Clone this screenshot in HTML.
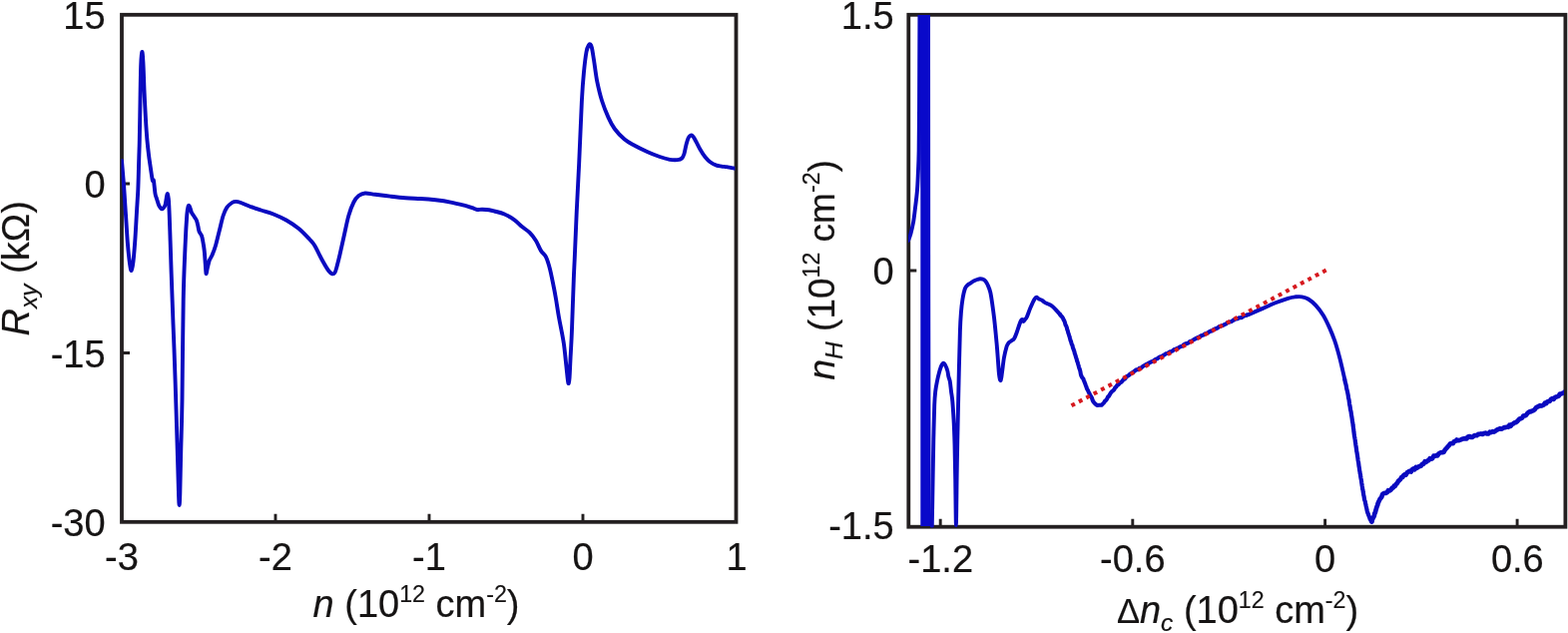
<!DOCTYPE html>
<html lang="en"><head><meta charset="utf-8"><title>Rxy and nH</title>
<style>html,body{margin:0;padding:0;background:#fff;overflow:hidden}svg{display:block}</style></head>
<body>
<svg width="1571" height="634" viewBox="0 0 1571 634">
<rect width="1571" height="634" fill="#fff"/>
<defs><clipPath id="cl"><rect x="121.5" y="15" width="614.9" height="508"/></clipPath><clipPath id="cr"><rect x="910" y="15" width="657" height="513.4"/></clipPath></defs>
<g fill="none" stroke="#231f20" stroke-width="3.8" stroke-linecap="butt">
<rect x="122.0" y="14.8" width="615.5" height="508.0"/>
<rect x="910.3" y="14.8" width="658.1" height="512.9"/>
<path stroke-width="2.9" d="M276.0 522.8v-8M430.0 522.8v-8M584.0 522.8v-8M122.0 184.0h8M122.0 353.5h8M942.2 527.7v-8M1134.8 527.7v-8M1327.6 527.7v-8M1520.1 527.7v-8M910.3 271.0h8"/>
</g>
<g fill="none" stroke="#0a0ac0" stroke-width="3.9" stroke-linejoin="round" stroke-linecap="round">
<path clip-path="url(#cl)" d="M122.0 161.0C122.3 165.0 123.3 176.0 124.0 185.0C124.7 194.0 125.3 205.0 126.0 215.0C126.7 225.0 127.3 236.8 128.0 245.0C128.7 253.2 129.4 259.7 130.0 264.0C130.6 268.3 131.1 271.3 131.7 271.0C132.3 270.7 132.9 267.0 133.5 262.0C134.1 257.0 134.7 249.3 135.3 241.0C135.9 232.7 136.5 220.5 137.0 212.0C137.5 203.5 137.9 198.7 138.3 190.0C138.7 181.3 138.9 168.3 139.2 160.0C139.4 151.7 139.6 150.0 139.8 140.0C140.0 130.0 140.3 112.5 140.5 100.0C140.7 87.5 140.9 73.0 141.2 65.0C141.5 57.0 141.9 52.5 142.3 52.0C142.7 51.5 143.0 55.7 143.4 62.0C143.8 68.3 144.1 80.3 144.5 90.0C144.9 99.7 145.5 111.7 146.0 120.0C146.5 128.3 146.9 134.2 147.4 140.0C147.9 145.8 148.5 150.8 149.0 155.0C149.5 159.2 149.9 161.5 150.4 165.0C150.9 168.5 151.6 173.3 152.0 176.0C152.4 178.7 152.6 180.2 152.9 181.0C153.2 181.8 153.6 178.8 154.0 181.0C154.4 183.2 155.0 191.0 155.5 194.0C156.0 197.0 156.4 197.1 157.0 199.0C157.6 200.9 158.5 204.1 159.2 205.7C159.9 207.3 160.5 207.9 161.0 208.5C161.5 209.1 161.8 209.5 162.3 209.4C162.8 209.3 163.4 208.7 164.0 208.0C164.6 207.3 165.1 206.7 165.6 205.0C166.1 203.3 166.5 199.8 166.8 198.0C167.1 196.2 167.3 194.2 167.6 194.0C167.9 193.8 168.2 195.0 168.5 197.0C168.8 199.0 169.0 198.7 169.3 206.0C169.7 213.3 170.1 225.3 170.6 241.0C171.1 256.7 171.9 281.8 172.6 300.0C173.2 318.2 173.8 331.7 174.5 350.0C175.2 368.3 175.9 391.7 176.5 410.0C177.1 428.3 177.6 445.8 178.0 460.0C178.4 474.2 178.7 487.3 179.0 495.0C179.3 502.7 179.4 506.0 179.6 506.0C179.8 506.0 180.0 504.3 180.3 495.0C180.6 485.7 180.9 465.8 181.3 450.0C181.7 434.2 182.1 425.0 182.5 400.0C182.9 375.0 183.1 326.5 183.7 300.0C184.2 273.5 185.2 255.2 185.8 241.0C186.4 226.8 186.9 220.7 187.3 215.0C187.8 209.3 188.1 208.5 188.5 207.0C188.9 205.5 189.1 205.7 189.5 206.0C189.9 206.3 190.4 207.8 190.8 209.0C191.2 210.2 191.4 211.7 192.0 213.0C192.6 214.3 193.8 215.7 194.6 217.0C195.4 218.3 196.3 219.3 197.0 221.0C197.7 222.7 198.1 225.2 198.5 227.0C198.9 228.8 199.0 230.5 199.6 232.0C200.2 233.5 201.3 234.2 202.0 236.0C202.7 237.8 203.1 240.5 203.5 243.0C203.9 245.5 204.3 247.3 204.7 251.0C205.1 254.7 205.5 261.2 205.8 265.0C206.1 268.8 206.2 273.2 206.5 274.0C206.8 274.8 207.0 272.2 207.5 270.0C208.0 267.8 208.9 263.3 209.7 261.0C210.5 258.7 211.2 258.5 212.3 256.0C213.4 253.5 214.8 250.2 216.0 246.0C217.2 241.8 218.5 236.0 219.8 231.0C221.1 226.0 222.3 219.9 223.6 216.0C224.9 212.1 225.9 209.9 227.4 207.7C228.9 205.5 231.0 204.0 232.5 203.0C234.0 202.0 234.8 201.9 236.3 201.9C237.8 201.9 238.8 202.1 241.3 203.0C243.8 203.9 248.0 205.9 251.4 207.2C254.8 208.4 257.7 209.3 261.5 210.5C265.3 211.7 269.8 212.8 274.0 214.5C278.2 216.2 282.6 218.1 286.8 220.5C291.0 222.9 295.5 225.8 299.4 229.0C303.3 232.2 307.4 236.7 310.0 239.5C312.6 242.3 313.2 242.5 315.3 246.0C317.4 249.5 320.5 256.3 322.8 260.5C325.1 264.7 327.4 268.7 329.1 271.0C330.8 273.3 331.8 274.0 332.9 274.3C334.0 274.6 334.7 274.2 335.5 273.0C336.3 271.8 336.7 270.0 337.5 267.0C338.3 264.0 339.4 259.8 340.5 255.0C341.6 250.2 342.8 244.5 344.3 238.0C345.8 231.5 347.6 221.9 349.3 216.0C351.0 210.1 352.7 205.8 354.4 202.5C356.1 199.2 357.5 197.5 359.4 196.0C361.3 194.5 363.1 193.7 365.8 193.5C368.6 193.3 371.7 194.3 375.9 194.8C380.1 195.3 385.9 196.0 391.0 196.6C396.1 197.2 401.1 197.8 406.2 198.2C411.2 198.6 416.2 198.7 421.3 199.0C426.4 199.3 431.4 199.7 436.5 200.3C441.6 200.9 446.6 201.6 451.6 202.6C456.7 203.6 463.2 205.3 466.8 206.2C470.4 207.1 471.2 207.6 473.1 208.2C475.0 208.8 476.4 209.8 478.1 210.0C479.8 210.2 481.2 209.6 483.2 209.7C485.2 209.8 488.0 210.0 490.0 210.3C492.0 210.6 492.7 210.8 495.3 211.5C497.9 212.2 502.0 213.0 505.4 214.5C508.8 216.0 512.6 218.2 515.5 220.3C518.4 222.4 520.5 225.0 523.0 227.1C525.5 229.2 528.3 230.6 530.6 232.9C532.9 235.2 535.0 238.0 536.9 241.0C538.8 244.0 540.3 248.4 542.0 251.1C543.7 253.8 545.5 254.4 547.0 257.4C548.5 260.3 549.5 263.9 550.8 268.8C552.1 273.7 553.5 281.3 554.6 286.5C555.7 291.7 556.2 294.8 557.1 300.0C558.0 305.2 558.7 310.8 560.0 318.0C561.3 325.2 563.5 335.2 564.7 343.0C565.9 350.8 566.5 358.8 567.2 365.0C567.9 371.2 568.4 376.8 568.8 380.0C569.2 383.2 569.4 384.3 569.7 384.0C570.0 383.7 570.3 382.0 570.6 378.0C570.9 374.0 571.1 368.0 571.5 360.0C571.9 352.0 572.5 343.3 573.0 330.0C573.5 316.7 574.3 291.7 574.8 280.0C575.2 268.3 575.2 271.2 575.7 260.0C576.2 248.8 577.0 229.2 577.7 213.0C578.5 196.8 579.3 181.7 580.2 163.0C581.1 144.3 582.1 116.2 582.9 101.0C583.7 85.8 584.2 80.2 585.0 72.0C585.8 63.8 586.7 56.5 587.5 52.0C588.3 47.5 589.3 46.2 590.0 45.0C590.7 43.8 591.0 44.0 591.5 44.5C592.0 45.0 592.4 45.4 593.0 48.0C593.6 50.6 594.1 54.5 595.0 60.0C595.9 65.5 596.8 74.0 598.1 80.8C599.5 87.6 601.2 94.9 603.1 101.0C605.0 107.1 607.3 112.7 609.4 117.4C611.5 122.1 613.1 125.3 615.8 129.0C618.5 132.7 622.4 136.7 625.7 139.5C629.0 142.3 632.0 143.7 635.8 145.8C639.6 147.9 644.2 150.1 648.4 152.0C652.6 153.9 657.2 155.7 661.0 157.0C664.8 158.3 668.1 159.3 671.1 159.8C674.1 160.3 676.7 160.3 678.7 160.1C680.7 159.9 682.1 159.5 683.2 158.5C684.3 157.5 684.8 156.2 685.5 154.0C686.2 151.8 686.8 147.6 687.5 145.0C688.2 142.4 688.8 140.0 689.5 138.5C690.2 137.0 690.9 136.5 691.5 136.0C692.1 135.5 692.7 135.3 693.3 135.6C693.9 135.8 694.3 136.4 695.0 137.5C695.7 138.6 696.4 140.0 697.5 142.0C698.6 144.0 699.9 146.9 701.4 149.5C702.9 152.1 704.8 155.2 706.5 157.3C708.2 159.4 709.6 160.9 711.5 162.3C713.4 163.7 715.9 164.9 717.8 165.6C719.7 166.3 721.3 166.3 723.0 166.6C724.7 166.9 726.3 166.9 728.0 167.2C729.7 167.5 731.3 167.9 733.0 168.2C734.7 168.5 737.2 168.7 738.0 168.8"/>
<g clip-path="url(#cr)">
<path d="M910.0 241.0C910.4 239.8 911.7 237.0 912.5 234.0C913.3 231.0 914.2 227.3 915.0 223.0C915.8 218.7 916.3 213.5 917.0 208.0C917.7 202.5 918.5 196.3 919.0 190.0C919.5 183.7 919.7 176.3 920.0 170.0C920.3 163.7 920.4 162.0 920.6 152.0C920.8 142.0 920.9 132.8 921.0 110.0C921.1 87.2 921.3 30.8 921.4 15.0"/>
<path stroke="none" fill="#0909ca" d="M921.6 15L932 15L932.2 300L932.6 527L922.3 527L922.3 200Z"/>
<path d="M933.8 527.0C933.9 519.2 934.4 494.5 934.6 480.0C934.9 465.5 935.0 452.3 935.3 440.0C935.6 427.7 935.9 414.0 936.2 406.0C936.5 398.0 936.7 396.2 937.2 392.0C937.7 387.8 938.5 384.2 939.1 381.0C939.7 377.8 940.4 375.3 941.0 373.0C941.6 370.7 942.4 368.4 942.9 367.0C943.4 365.6 943.9 365.0 944.3 364.5C944.7 364.0 945.0 363.6 945.5 363.8C946.0 364.0 946.4 364.3 947.0 365.5C947.6 366.7 948.7 369.1 949.2 371.0C949.8 372.9 949.9 375.2 950.3 377.0C950.7 378.8 951.3 379.5 951.8 382.0C952.2 384.5 952.6 388.7 953.0 392.0C953.4 395.3 953.9 397.3 954.3 402.0C954.7 406.7 955.1 412.8 955.5 420.0C955.9 427.2 956.2 435.0 956.5 445.0C956.8 455.0 957.0 466.5 957.2 480.0C957.4 493.5 957.7 526.0 957.9 526.0C958.1 526.0 958.4 494.3 958.6 480.0C958.8 465.7 959.0 456.5 959.3 440.0C959.6 423.5 960.2 399.2 960.6 381.0C961.0 362.8 961.5 342.5 961.9 331.0C962.3 319.5 962.6 317.2 963.0 312.0C963.4 306.8 963.8 303.8 964.4 300.0C965.0 296.2 966.0 291.4 966.9 289.0C967.8 286.6 968.6 286.4 969.5 285.5C970.4 284.6 970.9 284.5 972.0 283.8C973.1 283.1 974.8 281.9 976.0 281.3C977.2 280.7 978.0 280.3 979.0 280.0C980.0 279.7 981.0 279.3 982.0 279.3C983.0 279.3 984.1 279.4 985.0 279.8C985.9 280.2 986.7 280.8 987.5 281.8C988.3 282.8 989.0 284.0 989.8 285.8C990.6 287.6 991.5 289.6 992.2 292.5C992.9 295.4 993.4 298.8 994.0 303.0C994.6 307.2 995.2 311.3 996.0 318.0C996.8 324.7 997.8 335.7 998.5 343.0C999.2 350.3 999.6 356.7 1000.0 362.0C1000.4 367.3 1000.6 371.8 1001.0 375.0C1001.4 378.2 1001.9 380.4 1002.3 381.0C1002.7 381.6 1002.9 379.8 1003.2 378.5C1003.5 377.2 1003.5 376.4 1004.0 373.0C1004.5 369.6 1005.2 362.3 1006.0 358.0C1006.8 353.7 1007.9 349.4 1008.6 347.0C1009.4 344.6 1009.9 344.3 1010.5 343.5C1011.1 342.7 1011.7 342.5 1012.4 342.0C1013.1 341.5 1013.9 341.0 1014.5 340.5C1015.1 340.0 1015.5 340.2 1016.2 339.0C1016.9 337.8 1017.9 335.2 1018.7 333.0C1019.5 330.8 1020.5 327.5 1021.2 325.5C1021.9 323.5 1022.5 321.9 1023.0 321.0C1023.5 320.1 1023.9 319.8 1024.3 320.0C1024.7 320.2 1025.0 322.0 1025.5 322.0C1026.0 322.0 1026.5 320.8 1027.0 320.0C1027.5 319.2 1027.9 319.5 1028.8 317.5C1029.7 315.5 1031.3 310.8 1032.6 307.8C1033.9 304.8 1035.4 301.4 1036.4 299.7C1037.4 298.0 1037.6 297.7 1038.4 297.7C1039.2 297.7 1040.1 299.0 1041.0 299.5C1041.9 300.0 1043.0 300.1 1043.9 300.7C1044.8 301.2 1045.7 302.2 1046.5 302.8C1047.3 303.4 1047.8 303.4 1049.0 304.0C1050.2 304.6 1052.3 305.2 1054.0 306.5C1055.7 307.8 1057.8 310.2 1059.1 311.6C1060.4 313.0 1061.5 314.4 1062.0 315.0"/>
<path stroke-width="4.1" d="M1062.0 314.8L1063.0 316.2L1064.0 317.2L1065.0 318.6L1065.6 320.2L1066.3 321.3L1066.9 322.9L1067.5 325.3L1068.2 326.4L1068.8 328.0L1069.3 330.2L1069.8 331.3L1070.2 333.2L1070.7 334.5L1071.2 336.2L1071.6 337.3L1072.1 339.3L1072.6 341.1L1073.1 342.2L1073.5 343.9L1074.0 345.2L1074.5 346.1L1074.9 348.2L1075.4 349.4L1075.8 350.6L1076.3 351.8L1076.8 354.0L1077.2 355.0L1077.7 356.7L1078.2 358.4L1078.7 359.8L1079.1 361.6L1079.6 362.7L1080.1 364.6L1080.5 365.8L1081.0 367.8L1081.5 369.3L1081.9 370.2L1082.3 371.7L1082.6 373.3L1083.0 375.5L1083.4 376.5L1084.3 378.2L1085.3 379.3L1085.9 381.0L1086.5 382.4L1087.1 383.9L1087.7 385.7L1088.4 387.4L1089.0 389.4L1089.9 390.8L1090.7 392.7L1091.6 394.3L1092.4 396.0L1093.1 397.3L1093.9 398.4L1094.6 400.6L1095.4 402.3L1096.5 403.6L1097.5 404.7L1099.1 406.0L1101.5 405.8L1103.6 405.8L1104.8 404.6L1106.0 403.4L1107.0 401.8L1108.0 401.1L1109.0 399.8L1110.0 397.5L1111.0 396.8L1112.0 395.0L1113.0 393.3L1114.0 392.2L1115.1 391.4L1116.2 390.3L1117.2 388.3L1118.2 387.6L1119.3 385.9L1120.6 385.2L1121.9 383.6L1123.1 382.9L1124.4 381.7L1125.7 380.0L1127.0 379.5L1128.2 377.9L1129.5 376.7L1130.8 376.2L1132.0 374.8L1133.3 374.0L1134.5 373.2L1135.8 372.4L1137.2 371.2L1138.6 370.3L1140.0 370.2L1141.4 368.9L1142.8 368.7L1144.2 367.8L1145.6 366.5L1147.0 365.8L1148.4 365.0L1149.8 364.4L1151.2 363.6L1152.6 362.8L1154.0 362.1L1155.4 361.6L1156.8 360.5L1158.2 359.6L1159.6 359.2L1161.0 358.0L1162.4 357.3L1163.8 357.2L1165.2 356.1L1166.6 355.4L1168.0 354.3L1169.4 353.9L1170.8 353.4L1172.2 352.2L1173.6 352.0L1175.0 351.3L1176.4 350.1L1177.8 349.8L1179.2 349.0L1180.7 348.5L1182.1 347.4L1183.5 347.0L1184.9 346.3L1186.3 345.0L1187.7 344.3L1189.1 344.1L1190.5 343.6L1191.9 342.2L1193.3 341.7L1194.7 341.1L1196.1 340.1L1197.5 339.4L1198.9 338.6L1200.3 338.0L1201.7 337.5L1203.1 336.5L1204.5 335.9L1205.9 335.5L1207.3 334.2L1208.7 334.0L1210.1 333.4L1211.5 332.3L1212.9 331.6L1214.3 331.4L1215.7 330.2L1217.1 329.5L1218.5 329.0L1219.9 328.5L1221.3 327.3L1222.7 326.8L1224.1 326.2L1225.5 325.9L1226.9 324.9L1228.3 324.6L1229.7 323.3L1231.2 322.8L1232.6 322.4L1234.0 322.0L1235.4 320.9L1236.8 320.1L1238.4 319.4L1240.0 319.2L1241.5 318.3L1243.1 318.2L1244.7 317.7L1246.2 316.5L1247.8 316.0L1249.4 315.6"/>
<path d="M1249.4 315.6C1249.9 315.4 1249.9 315.5 1252.6 314.4C1255.2 313.3 1261.1 310.8 1265.3 308.9C1269.5 307.0 1273.7 305.0 1277.9 303.3C1282.1 301.6 1287.1 299.8 1290.5 298.8C1293.9 297.8 1295.8 297.6 1298.1 297.3C1300.4 297.1 1302.3 296.9 1304.4 297.3C1306.5 297.7 1308.4 298.1 1310.7 299.5C1313.0 300.9 1315.8 303.1 1318.3 305.9C1320.8 308.6 1323.6 312.2 1325.9 316.0C1328.2 319.8 1330.3 324.4 1332.2 328.6C1334.1 332.8 1335.7 337.0 1337.2 341.2C1338.7 345.4 1339.7 349.2 1341.0 353.8C1342.3 358.4 1343.8 364.6 1344.8 369.0C1345.8 373.4 1346.9 378.2 1347.3 380.0"/>
<path stroke-width="4.2" d="M1347.3 380.3L1347.6 381.6L1347.9 383.3L1348.3 384.4L1348.6 385.7L1348.9 387.3L1349.2 389.3L1349.5 390.3L1349.9 391.9L1350.2 393.4L1350.5 394.9L1350.8 396.5L1351.0 398.5L1351.3 399.4L1351.6 400.8L1351.9 403.3L1352.1 404.8L1352.4 406.4L1352.7 407.5L1352.9 409.5L1353.2 411.1L1353.5 412.0L1353.8 414.1L1354.0 415.7L1354.3 417.1L1354.5 418.5L1354.7 419.8L1354.9 421.4L1355.1 422.8L1355.4 424.1L1355.6 426.1L1355.8 427.3L1356.0 429.3L1356.2 430.1L1356.4 432.4L1356.6 433.7L1356.8 435.4L1357.0 436.9L1357.3 438.4L1357.5 439.6L1357.7 440.6L1357.9 442.7L1358.1 443.7L1358.3 445.3L1358.6 447.1L1358.8 448.5L1359.0 449.9L1359.2 451.9L1359.5 453.1L1359.7 454.4L1359.9 455.8L1360.2 457.8L1360.4 459.0L1360.6 460.8L1360.8 461.9L1361.1 463.2L1361.3 465.0L1361.5 466.8L1361.7 467.7L1362.0 469.8L1362.2 471.4L1362.5 472.8L1362.7 474.4L1363.0 475.2L1363.2 477.4L1363.5 479.1L1363.7 480.0L1364.0 481.7L1364.2 483.3L1364.5 485.1L1364.7 486.6L1365.0 488.2L1365.2 490.0L1365.5 490.9L1365.7 492.5L1366.0 494.1L1366.2 495.7L1366.6 497.2L1366.9 499.6L1367.3 501.1L1367.7 502.0L1368.0 504.0L1368.4 505.4L1368.7 507.0L1369.1 508.6L1369.5 510.5L1369.8 512.0L1370.2 513.4L1370.8 514.8L1371.4 516.5L1372.0 517.9L1372.6 519.8L1373.5 521.4L1374.4 522.6"/>
<path stroke-width="4.7" d="M1374.4 522.4L1374.9 520.4L1375.5 519.2L1376.0 518.2L1376.5 517.3L1376.9 516.3L1377.3 514.1L1377.8 513.6L1378.3 511.7L1378.8 509.9L1379.3 508.2L1379.7 507.0L1380.2 505.9L1380.7 503.8L1381.2 502.9L1382.0 501.1L1382.8 499.4L1383.6 498.7L1384.3 497.7L1385.1 495.1L1385.9 494.5L1387.2 493.8L1388.4 493.9L1389.7 493.2L1390.9 491.2L1392.2 491.5L1393.5 490.6L1394.7 488.8L1396.0 488.4L1396.8 486.6L1397.7 486.8L1398.5 485.3L1399.3 484.6L1400.2 483.3L1401.0 481.8L1402.1 481.0L1403.2 479.8L1404.3 477.9L1405.3 478.0L1406.4 475.9L1407.5 475.2L1408.6 475.5L1409.9 473.3L1411.1 472.6L1412.4 471.8L1413.7 472.6L1414.9 470.4L1416.2 469.3L1417.5 470.2L1418.7 468.0L1420.0 468.6L1421.2 467.5L1422.5 467.0L1423.8 466.5L1425.0 464.9L1426.3 464.6L1427.6 462.3L1428.8 462.9L1430.1 461.6L1431.3 461.2L1432.6 459.2L1433.9 459.7L1435.1 459.3L1436.4 456.7L1437.7 456.6L1438.9 456.4L1440.2 456.3L1441.5 454.4L1442.7 453.6L1444.0 453.1L1445.2 453.2L1446.5 452.8L1447.6 450.8L1448.7 449.5L1449.8 448.3L1450.9 447.0L1452.0 445.8L1453.2 444.3L1454.4 444.2L1455.7 444.2L1456.9 442.2L1458.1 442.0L1459.5 440.5L1460.9 441.2L1462.4 440.9L1463.8 440.4L1465.2 439.7L1466.7 439.3L1468.1 439.2L1469.5 439.4L1470.9 437.5L1472.4 437.0L1473.8 437.9L1475.3 437.8L1476.7 436.6L1478.2 436.1L1479.6 436.2L1481.0 434.9L1482.5 434.8L1483.9 434.4L1485.4 434.9L1486.8 434.1L1488.3 433.7L1489.7 434.4L1491.1 434.5L1492.6 432.7L1494.0 433.1L1495.5 432.1L1496.9 432.6L1498.4 431.6L1499.8 430.5L1501.2 430.0L1502.7 429.2L1504.1 429.7L1505.6 429.1L1507.0 428.2L1508.5 428.1L1509.9 427.6L1511.2 427.8L1512.4 425.8L1513.7 426.7L1515.0 424.9L1516.2 424.4L1517.5 423.3L1518.8 423.1L1520.0 422.2L1521.3 420.7L1522.5 419.6L1523.8 419.2L1525.1 418.5L1526.3 416.6L1527.6 416.4L1528.9 416.0L1530.1 414.2L1531.4 413.0L1532.7 412.2L1533.9 412.3L1535.2 411.5L1536.4 411.2L1537.7 410.2L1539.0 408.3L1540.2 407.6L1541.5 407.0L1542.8 406.2L1544.0 406.6L1545.3 406.2L1546.5 405.7L1547.8 403.7L1549.1 404.2L1550.3 402.4L1551.6 401.9L1552.8 401.8L1554.1 399.8L1555.4 399.1L1556.6 399.9L1557.9 398.1L1559.2 397.5L1560.4 397.2L1561.7 396.6L1562.9 394.5L1564.2 394.5L1565.4 393.9L1566.7 393.3L1568.5 392.2"/>
</g></g>
<path d="M1073.5 406.3L1329 270.4" fill="none" stroke="#d6191f" stroke-width="4" stroke-dasharray="3.9 4.486"/>
<g font-family="'Liberation Sans', Arial, sans-serif" font-size="38" fill="#151313" stroke="#151313" stroke-width="0.2" stroke-linejoin="round">
<text x="105.6" y="28.8" text-anchor="end">15</text>
<text x="105.6" y="198.4" text-anchor="end">0</text>
<text x="105.6" y="368.3" text-anchor="end">-15</text>
<text x="105.6" y="536.8" text-anchor="end">-30</text>
<text x="122.0" y="570.9" text-anchor="middle">-3</text>
<text x="276.0" y="570.9" text-anchor="middle">-2</text>
<text x="430.0" y="570.9" text-anchor="middle">-1</text>
<text x="584.0" y="570.9" text-anchor="middle">0</text>
<text x="738.0" y="570.9" text-anchor="middle">1</text>
<text x="895.7" y="28.8" text-anchor="end">1.5</text>
<text x="895.7" y="285.4" text-anchor="end">0</text>
<text x="895.7" y="540.4" text-anchor="end">-1.5</text>
<text x="942.3" y="573.2" text-anchor="middle">-1.2</text>
<text x="1134.8" y="573.2" text-anchor="middle">-0.6</text>
<text x="1327.6" y="573.2" text-anchor="middle">0</text>
<text x="1520.3" y="573.2" text-anchor="middle">0.6</text>
<text x="417.0" y="617.9" text-anchor="middle"><tspan font-style="italic">n</tspan> (10<tspan font-size="23.2" dy="-15.3">12</tspan><tspan dy="15.3"> cm</tspan><tspan font-size="23.2" dy="-15.3">-2</tspan><tspan dy="15.3">)</tspan></text>
<text x="1240.0" y="624.0" text-anchor="middle"><tspan font-size="34.5">Δ</tspan><tspan font-style="italic">n</tspan><tspan font-size="24.5" font-style="italic" dy="7.8">c</tspan><tspan dy="-7.8"> (10</tspan><tspan font-size="23.2" dy="-15.3">12</tspan><tspan dy="15.3"> cm</tspan><tspan font-size="23.2" dy="-15.3">-2</tspan><tspan dy="15.3">)</tspan></text>
<text transform="translate(29.2,268.8) rotate(-90)" text-anchor="middle"><tspan font-style="italic">R</tspan><tspan font-size="24.5" font-style="italic" dy="7.8">xy</tspan><tspan dy="-7.8"> (kΩ)</tspan></text>
<text transform="translate(836.4,270.3) rotate(-90)" text-anchor="middle" font-size="37"><tspan font-style="italic">n</tspan><tspan font-size="24.5" font-style="italic" dy="7.8">H</tspan><tspan dy="-7.8"> (10</tspan><tspan font-size="23.2" dy="-15.3">12</tspan><tspan dy="15.3"> cm</tspan><tspan font-size="23.2" dy="-15.3">-2</tspan><tspan dy="15.3">)</tspan></text>
</g>
</svg>
</body></html>
